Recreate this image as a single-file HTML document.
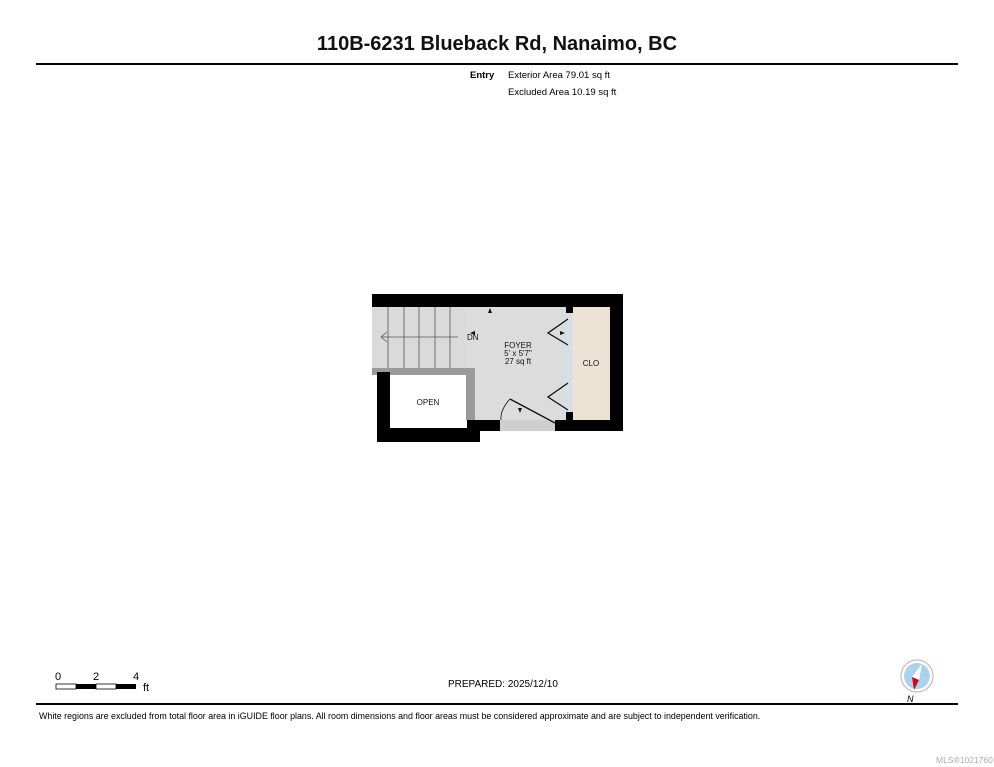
<!DOCTYPE html>
<html><head><style>
body{margin:0;width:994px;height:767px;background:#fff;font-family:"Liberation Sans",Arial,sans-serif;position:relative;overflow:hidden}
.a{position:absolute;white-space:nowrap}
</style></head><body>
<div class="a" style="left:0;width:994px;top:33px;text-align:center;font-size:20px;font-weight:bold;color:#111">110B-6231 Blueback Rd, Nanaimo, BC</div>
<div class="a" style="left:36px;top:63px;width:922px;height:2px;background:#000"></div>
<div class="a" style="left:470px;top:70px;font-size:9.5px;font-weight:bold">Entry</div>
<div class="a" style="left:508px;top:70px;font-size:9.5px">Exterior Area 79.01 sq ft</div>
<div class="a" style="left:508px;top:87px;font-size:9.5px">Excluded Area 10.19 sq ft</div>
<svg class="a" style="left:0;top:0" width="994" height="767">
<rect x="467" y="307" width="101" height="124" fill="#dcdcdc"/>
<rect x="564" y="307" width="9" height="115" fill="#d8dde6"/>
<rect x="573" y="307" width="37" height="115" fill="#ede3d4"/>
<rect x="372" y="307" width="95" height="61" fill="#dadada"/>
<g stroke="#555" stroke-width="0.8">
<line x1="388" y1="307" x2="388" y2="368"/><line x1="404" y1="307" x2="404" y2="368"/><line x1="419" y1="307" x2="419" y2="368"/><line x1="435" y1="307" x2="435" y2="368"/><line x1="450" y1="307" x2="450" y2="368"/>
<line x1="382" y1="337" x2="458" y2="337"/><polyline points="387,332 381,337 387,342" fill="none"/></g>
<rect x="372" y="368" width="103" height="7" fill="#9a9a9a"/>
<rect x="466" y="368" width="9" height="52" fill="#9a9a9a"/>
<rect x="372" y="294" width="251" height="13" fill="#000"/>
<rect x="610" y="294" width="13" height="137" fill="#000"/>
<rect x="377" y="372" width="13" height="70" fill="#000"/>
<rect x="377" y="428" width="103" height="14" fill="#000"/>
<rect x="467" y="420" width="33" height="11" fill="#000"/>
<rect x="555" y="420" width="68" height="11" fill="#000"/>
<rect x="500" y="420" width="55" height="11" fill="#cfcfcf"/>
<rect x="566" y="307" width="7" height="6" fill="#000"/><rect x="566" y="412" width="7" height="8" fill="#000"/>
<g stroke="#111" stroke-width="1.3" fill="none">
<polyline points="568,319 548,333 568,345"/><polyline points="568,383 548,397 568,410"/>
<line x1="510" y1="399" x2="555" y2="423"/><path d="M510,399 Q500,410 501,420" stroke-width="0.8"/></g>
<g fill="#111"><path d="M490,308 l-2,5 h4z"/><path d="M470,333 l5,-2 v4z"/><path d="M565,333 l-5,-2 v4z"/><path d="M520,413 l-2,-5 h4z"/></g>
<text x="467" y="340" font-size="8" fill="#111">DN</text>
<text x="518" y="348" font-size="8" text-anchor="middle" fill="#111">FOYER</text>
<text x="518" y="356" font-size="8" text-anchor="middle" fill="#111">5' x 5'7"</text>
<text x="518" y="364" font-size="8" text-anchor="middle" fill="#111">27 sq ft</text>
<text x="591" y="366" font-size="8" text-anchor="middle" fill="#111">CLO</text>
<text x="428" y="405" font-size="8" text-anchor="middle" fill="#111">OPEN</text>
<rect x="56" y="684" width="20" height="5" fill="#fff" stroke="#000" stroke-width="0.8"/>
<rect x="76" y="684" width="20" height="5" fill="#000"/>
<rect x="96" y="684" width="20" height="5" fill="#fff" stroke="#000" stroke-width="0.8"/>
<rect x="116" y="684" width="20" height="5" fill="#000"/>
<text x="58" y="680" font-size="11" text-anchor="middle">0</text>
<text x="96" y="680" font-size="11" text-anchor="middle">2</text>
<text x="136" y="680" font-size="11" text-anchor="middle">4</text>
<text x="143" y="691" font-size="11">ft</text>
<circle cx="917" cy="676" r="16" fill="#fff" stroke="#c8a898" stroke-width="1"/>
<circle cx="917" cy="676" r="13" fill="#a8d4f0"/>
<path d="M922,664 L912,677 L919,680z" fill="#fff"/>
<path d="M912,677 L919,680 L914,690z" fill="#e00010"/>
<text x="907" y="702" font-size="9" font-style="italic">N</text>
</svg>
<div class="a" style="left:448px;top:679px;font-size:10px">PREPARED: 2025/12/10</div>
<div class="a" style="left:36px;top:703px;width:922px;height:2px;background:#000"></div>
<div class="a" style="left:39px;top:711px;font-size:8.9px">White regions are excluded from total floor area in iGUIDE floor plans. All room dimensions and floor areas must be considered approximate and are subject to independent verification.</div>
<div class="a" style="left:936px;top:755px;font-size:8.5px;color:#aaa">MLS®1021760</div>
</body></html>
